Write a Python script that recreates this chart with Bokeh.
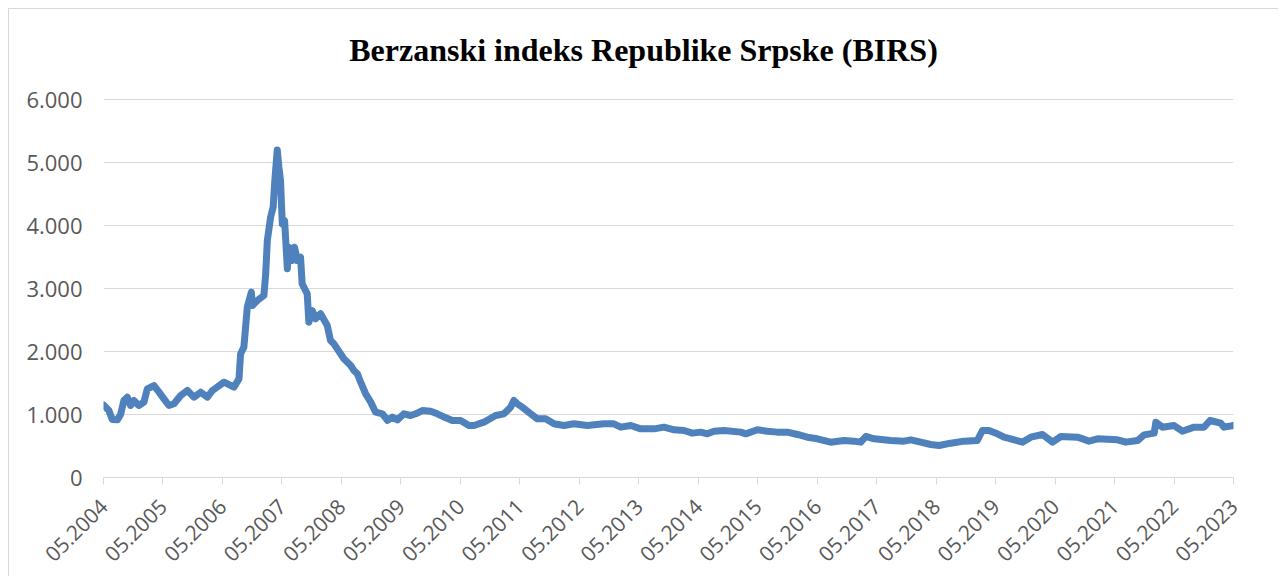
import math
import pandas as pd
from bokeh.plotting import figure
from bokeh.models import Range1d, FixedTicker, DatetimeTickFormatter, ColumnDataSource, Label
from bokeh.embed import file_html
from bokeh.resources import INLINE

# ---- data ----
dates = [
    "2004-05-01", "2004-06-03", "2004-06-24", "2004-07-25", "2004-08-14", "2004-09-03",
    "2004-09-24", "2004-10-14", "2004-11-04", "2004-12-04", "2005-01-04", "2005-01-25",
    "2005-03-07", "2005-04-07", "2005-05-07", "2005-06-07", "2005-07-08", "2005-08-18",
    "2005-09-28", "2005-11-08", "2005-12-19", "2006-01-29", "2006-03-01", "2006-05-11",
    "2006-07-11", "2006-08-11", "2006-08-21", "2006-09-10", "2006-10-01", "2006-10-26",
    "2006-11-01", "2006-12-01", "2007-01-11", "2007-01-22", "2007-02-01", "2007-02-21",
    "2007-03-09", "2007-03-19", "2007-04-03", "2007-04-13", "2007-04-23", "2007-05-04",
    "2007-05-18", "2007-06-04", "2007-06-13", "2007-07-04", "2007-07-18", "2007-08-04",
    "2007-08-24", "2007-09-03", "2007-10-04", "2007-10-14", "2007-11-04", "2007-11-24",
    "2007-12-25", "2008-02-04", "2008-02-24", "2008-03-16", "2008-05-16", "2008-06-27",
    "2008-07-17", "2008-08-07", "2008-08-27", "2008-09-27", "2008-10-28", "2008-11-27",
    "2009-01-08", "2009-02-08", "2009-03-10", "2009-04-10", "2009-05-20", "2009-06-30",
    "2009-07-31", "2009-09-10", "2009-10-31", "2009-12-11", "2010-02-01", "2010-03-13",
    "2010-05-03", "2010-06-23", "2010-07-24", "2010-09-23", "2010-12-04", "2011-01-24",
    "2011-03-06", "2011-03-26", "2011-04-16", "2011-05-17", "2011-07-07", "2011-08-17",
    "2011-10-07", "2011-11-27", "2012-01-27", "2012-03-29", "2012-06-19", "2012-09-29",
    "2012-11-29", "2013-01-10", "2013-03-13", "2013-05-13", "2013-08-03", "2013-10-03",
    "2013-12-04", "2014-02-03", "2014-03-26", "2014-05-16", "2014-06-26", "2014-08-06",
    "2014-10-06", "2015-01-17", "2015-02-17", "2015-04-29", "2015-06-29", "2015-08-29",
    "2015-10-30", "2015-12-31", "2016-03-01", "2016-05-01", "2016-07-22", "2016-10-12",
    "2016-12-12", "2017-01-23", "2017-02-23", "2017-04-15", "2017-07-26", "2017-10-16",
    "2017-11-26", "2018-01-26", "2018-03-29", "2018-05-19", "2018-07-29", "2018-10-19",
    "2019-01-09", "2019-02-09", "2019-03-21", "2019-05-12", "2019-06-22", "2019-08-02",
    "2019-10-13", "2019-12-03", "2020-02-13", "2020-04-15", "2020-06-05", "2020-09-16",
    "2020-11-25", "2021-01-16", "2021-05-19", "2021-07-09", "2021-09-19", "2021-10-29",
    "2021-12-30", "2022-01-09", "2022-02-19", "2022-05-01", "2022-06-21", "2022-09-01",
    "2022-11-01", "2022-12-08", "2023-02-12", "2023-03-04", "2023-05-01",
]
birs = [
    1150, 1063, 920, 915, 1000, 1222,
    1275, 1143, 1222, 1143, 1196, 1407,
    1460, 1354, 1249, 1143, 1170, 1302,
    1381, 1275, 1354, 1275, 1381, 1513,
    1434, 1566, 1963, 2069, 2703, 2942,
    2730, 2810, 2889, 3233, 3762, 4132,
    4291, 4714, 5200, 4926, 4714, 4026,
    4079, 3313, 3656, 3444, 3656, 3444,
    3497, 3074, 2915, 2466, 2651, 2519,
    2598, 2413, 2175, 2122, 1884, 1778,
    1698, 1646, 1513, 1328, 1196, 1037,
    1011, 905, 958, 915, 1011, 984,
    1011, 1063, 1053, 1011, 947, 905,
    905, 825, 825, 878, 984, 1011,
    1116, 1222, 1169, 1116, 1011, 931,
    931, 852, 825, 852, 825, 852,
    852, 799, 825, 772, 772, 799,
    757, 746, 704, 720, 693, 735,
    746, 720, 693, 757, 735, 720,
    720, 683, 640, 614, 561, 587,
    577, 561, 651, 614, 587, 577,
    598, 561, 524, 508, 545, 577,
    587, 746, 746, 693, 640, 614,
    561, 640, 683, 561, 651, 640,
    577, 614, 598, 561, 587, 677,
    704, 878, 799, 825, 735, 799,
    799, 905, 862, 799, 825,
]
tick_dates = ["%d-05-01" % y for y in range(2004, 2024)]
x_tick_labels = ["05.%d" % y for y in range(2004, 2024)]
y_ticks = [0, 1000, 2000, 3000, 4000, 5000, 6000]
y_tick_labels = ["0", "1.000", "2.000", "3.000", "4.000", "5.000", "6.000"]

title_text = "Berzanski indeks Republike Srpske  (BIRS)"

# ---- layout (pixels) ----
W, H = 1270, 568          # canvas size
ML, MR, MB = 94, 46, 100  # borders around the plotting frame
AXIS_TOP = 90             # canvas y of the 6.000 gridline
TITLE_BASE = 40           # canvas y of the title baseline
TITLE_CX = 638            # canvas x of the title centre

# ---- figure ----
x_dt = pd.to_datetime(dates)
tick_ms = [float(pd.Timestamp(d).value // 10**6) for d in tick_dates]
x0, x1 = tick_ms[0], tick_ms[-1]
y0, y1 = y_ticks[0], y_ticks[-1]

frame_w = W - ML - MR
data_h = (H - MB) - AXIS_TOP                 # pixels spanned by 0..6000
units_per_px = (y1 - y0) / data_h
y_top = y1 + AXIS_TOP * units_per_px         # frame extends to canvas top (room for title)

src = ColumnDataSource(dict(x=x_dt, y=birs))

p = figure(
    width=W, height=H,
    x_axis_type="datetime",
    x_range=Range1d(x0, x1),
    y_range=Range1d(y0, y_top),
    output_backend="svg", toolbar_location=None,
    min_border_left=ML, min_border_right=MR, min_border_top=0, min_border_bottom=MB,
)
p.styles = {"margin-left": "8px", "margin-top": "8px",
            "border-left": "1px solid #D9D9D9", "border-top": "1px solid #D9D9D9"}
p.background_fill_color = "white"
p.border_fill_color = "white"
p.outline_line_color = None

title_y = y1 + (AXIS_TOP - TITLE_BASE) * units_per_px
title_x = x0 + (x1 - x0) * ((TITLE_CX - ML) / frame_w)
p.add_layout(Label(
    x=title_x, y=title_y, text=title_text,
    text_font="Liberation Serif", text_font_style="bold", text_font_size="32px",
    text_color="black", text_align="center", text_baseline="alphabetic",
))

p.line("x", "y", source=src, line_width=7, line_color="#4F81BD",
       line_join="round", line_cap="round")

# x axis
xa = p.xaxis[0]
xa.ticker = FixedTicker(ticks=tick_ms)
fmt = "%m.%Y"
xa.formatter = DatetimeTickFormatter(
    milliseconds=fmt, seconds=fmt, minsec=fmt, minutes=fmt, hourmin=fmt, hours=fmt,
    days=fmt, months=fmt, years=fmt)
xa.major_label_overrides = {t: lab for t, lab in zip(tick_ms, x_tick_labels)}
xa.major_label_orientation = math.pi / 4
xa.major_label_text_font = "Open Sans"
xa.major_label_text_font_size = "21px"
xa.major_label_text_color = "#595959"
xa.major_label_standoff = 18
xa.axis_line_color = "#D9D9D9"
xa.axis_line_width = 1
xa.major_tick_line_color = "#D9D9D9"
xa.major_tick_out = 7
xa.major_tick_in = 0
xa.minor_tick_line_color = None

# y axis
ya = p.yaxis[0]
ya.ticker = FixedTicker(ticks=y_ticks)
ya.major_label_overrides = {t: lab for t, lab in zip(y_ticks, y_tick_labels)}
ya.major_label_text_font = "Open Sans"
ya.major_label_text_font_size = "22px"
ya.major_label_text_color = "#595959"
ya.major_label_standoff = 15
ya.axis_line_color = None
ya.major_tick_line_color = None
ya.minor_tick_line_color = None

p.xgrid.grid_line_color = None
p.ygrid.grid_line_color = "#D9D9D9"
p.ygrid.grid_line_width = 1

open("out.html", "w").write(file_html(p, INLINE))
